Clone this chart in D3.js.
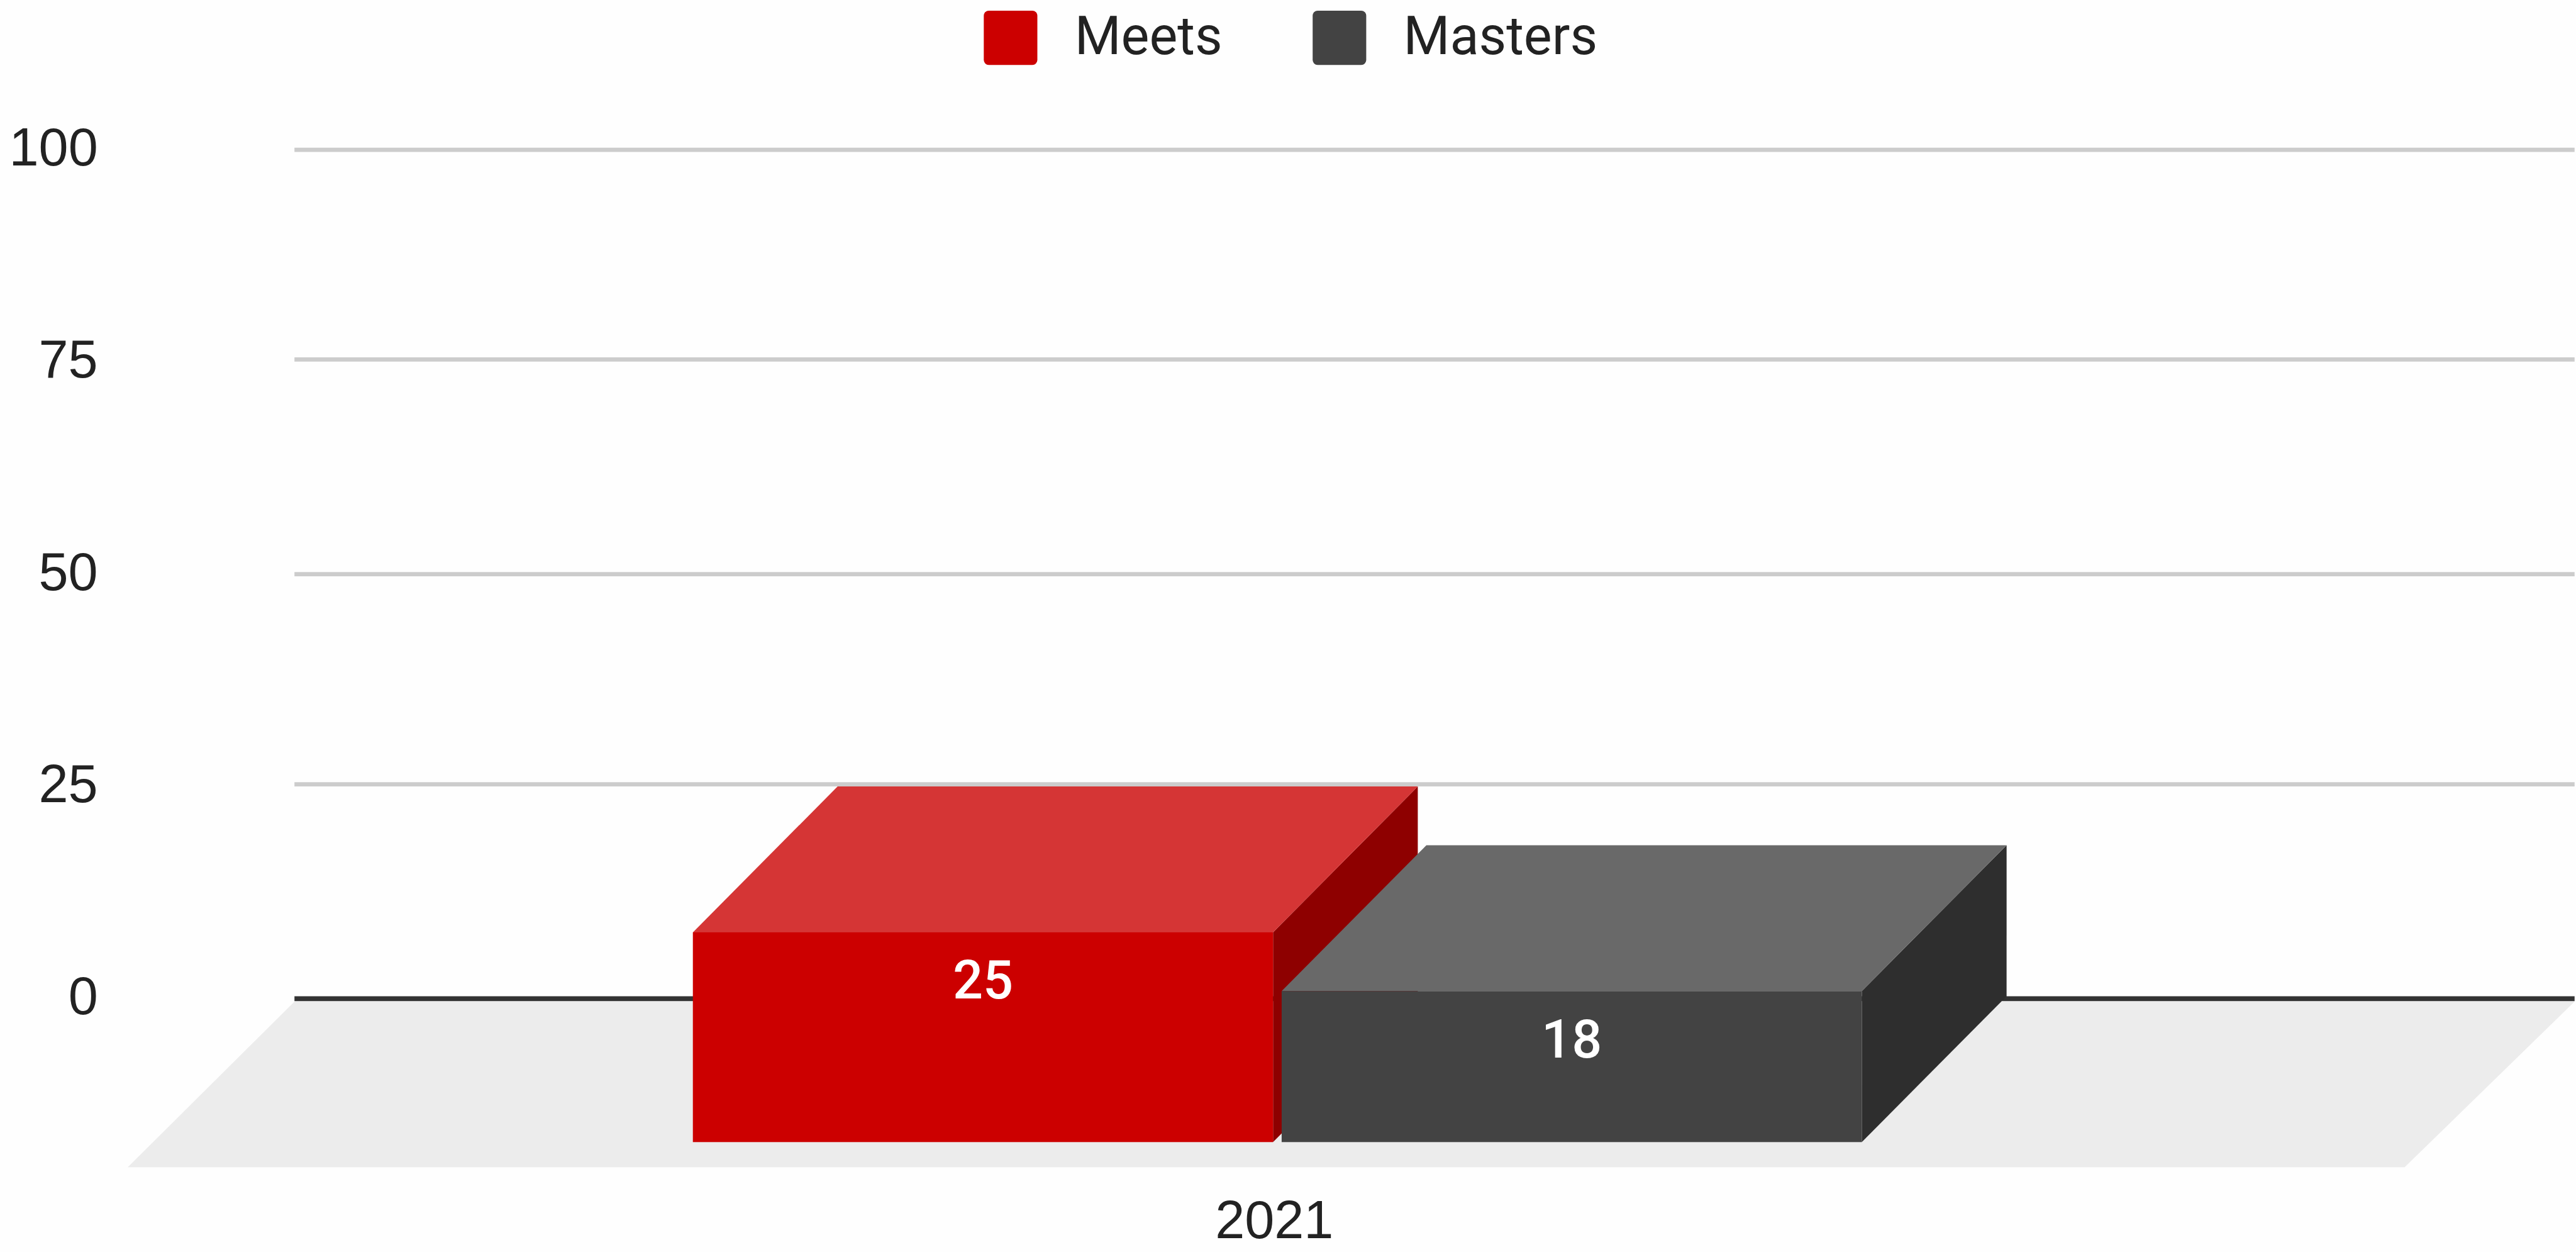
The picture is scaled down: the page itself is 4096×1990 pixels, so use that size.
<!DOCTYPE html>
<html>
<head>
<meta charset="utf-8">
<script src="https://cdnjs.cloudflare.com/ajax/libs/d3/7.8.5/d3.min.js"></script>
<style>
  html, body { margin: 0; padding: 0; background: #fefefe; overflow: hidden; }
  svg { display: block; }
  text { font-family: "Liberation Sans", Arial, sans-serif; }
  .bar text, .legend text { font-family: Roboto, sans-serif; }
</style>
</head>
<body>
<svg id="chart" width="4096" height="1990"></svg>
<script>
// Chart data
const categories = ["2021"];
const seriesNames = ["Meets", "Masters"];
const seriesValues = [25, 18];
const axisTicks = [0, 25, 50, 75, 100];

const seriesFront = ["#cc0000", "#434343"];
const seriesTop = ["#d53535", "#696969"];
const seriesSide = ["#8e0000", "#2e2e2e"];

// Layout is worked out on a 7261-wide canvas and scaled to the window.
const k = 4096 / 7261;
const svg = d3.select("#chart");
const g = svg.append("g").attr("transform", `scale(${k})`);

const fontSize = 150;
const depthX = 408, depthY = 411;
const frontBottom = 3218;

// Gridlines sit on the back wall; their spacing is snapped to whole screen rows.
const gridY = d3.scaleLinear().domain(axisTicks).range([2814, 2210, 1618, 1013, 422]);
const labelY = d3.scaleLinear().domain([0, 100]).range([2858, 466]);
// Bars stand on the floor, a little in front of the wall's zero line.
const barY = d3.scaleLinear().domain([0, 100]).range([frontBottom, frontBottom - 2364]);

// Category band over the front faces of the bars.
const x0 = d3.scaleBand().domain(categories).range([1953, 5248]);
const x1 = d3.scaleBand().domain(seriesNames).range(x0.range()).paddingInner(0.0146);

// Floor
const floorPts = [[830, 2822], [7257, 2822], [6778, 3289], [360, 3289]];
g.append("polygon")
  .attr("points", floorPts.map(p => p.join(",")).join(" "))
  .attr("fill", "#ececec");

// Gridlines and value labels
const tickGroup = g.append("g");
axisTicks.forEach(t => {
  tickGroup.append("line")
    .attr("x1", 830).attr("x2", 7257)
    .attr("y1", gridY(t)).attr("y2", gridY(t))
    .attr("stroke", t === 0 ? "#333333" : "#cccccc")
    .attr("stroke-width", t === 0 ? 14 : 12);
  tickGroup.append("text")
    .attr("x", 276)
    .attr("y", labelY(t))
    .attr("text-anchor", "end")
    .attr("font-size", fontSize)
    .attr("fill", "#222222")
    .text(t);
});

// Bars: top and side faces first, then the front, then the value label
seriesNames.forEach((name, i) => {
  const v = seriesValues[i];
  const left = x1(name);
  const right = left + x1.bandwidth();
  const top = barY(v);
  const bar = g.append("g").attr("class", "bar");
  bar.append("polygon")
    .attr("points", [[right, top], [right + depthX, top - depthY], [right + depthX, frontBottom - depthY], [right, frontBottom]].map(p => p.join(",")).join(" "))
    .attr("fill", seriesSide[i]);
  bar.append("polygon")
    .attr("points", [[left, top], [left + depthX, top - depthY], [right + depthX, top - depthY], [right, top]].map(p => p.join(",")).join(" "))
    .attr("fill", seriesTop[i]);
  bar.append("rect")
    .attr("x", left).attr("y", top)
    .attr("width", right - left).attr("height", frontBottom - top)
    .attr("fill", seriesFront[i]);
  bar.append("text")
    .attr("x", (left + right) / 2)
    .attr("y", top + 187)
    .attr("text-anchor", "middle")
    .attr("font-size", fontSize)
    .attr("font-weight", 500)
    .attr("fill", "#ffffff")
    .text(v);
});

// Category label
g.append("text")
  .attr("x", 3592).attr("y", 3488)
  .attr("text-anchor", "middle")
  .attr("font-size", fontSize)
  .attr("fill", "#222222")
  .text(categories[0]);

// Legend
const legendX = [2773, 3700];
const legend = g.append("g").attr("class", "legend");
seriesNames.forEach((name, i) => {
  legend.append("rect")
    .attr("x", legendX[i]).attr("y", 30)
    .attr("width", 151).attr("height", 153)
    .attr("rx", 14)
    .attr("fill", seriesFront[i]);
  legend.append("text")
    .attr("x", legendX[i] + 256).attr("y", 153)
    .attr("font-size", fontSize)
    .attr("fill", "#222222")
    .text(name);
});
</script>
</body>
</html>
